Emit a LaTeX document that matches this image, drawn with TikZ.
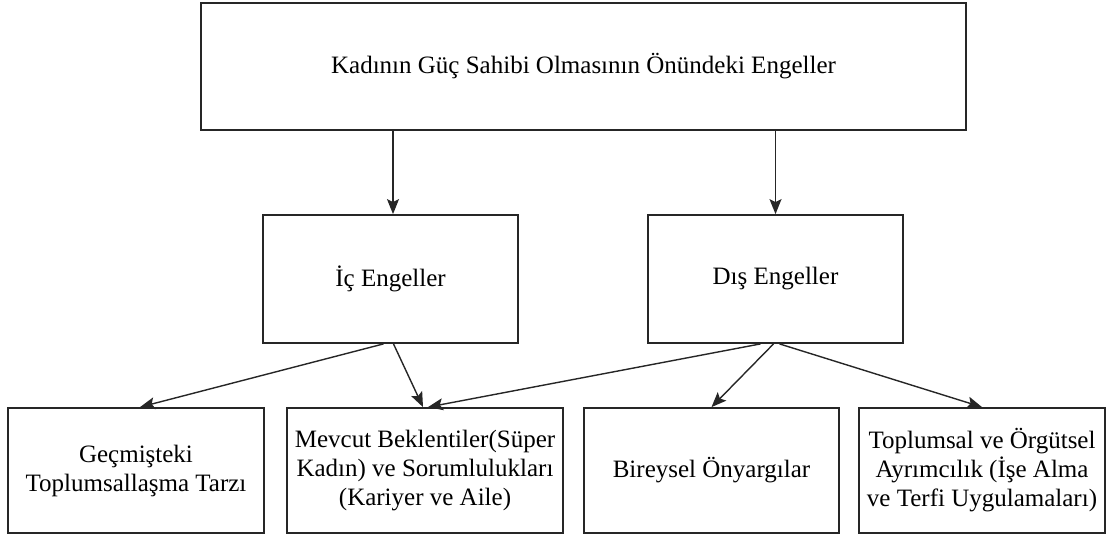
\documentclass[tikz,border=0pt]{standalone}
\usepackage{fontspec}
\setmainfont{Liberation Serif}
\usetikzlibrary{arrows.meta}
\begin{document}
\begin{tikzpicture}[x=1pt,y=-1pt,
  box/.style={draw=black!85, line width=1.8pt, inner sep=0pt, align=center,
    font=\fontsize{25}{29}\selectfont},
  conn/.style={draw=black!85, line width=1.4pt, -{Stealth[length=15pt,width=12pt,inset=3pt]}}]
\useasboundingbox (0,0) rectangle (1115,538);
\node[box, minimum width=765pt, minimum height=127pt] (top) at (583.5,66.5) {Kadının Güç Sahibi Olmasının Önündeki Engeller};
\node[box, minimum width=255pt, minimum height=128pt] (ic) at (390.5,279) {İç Engeller};
\node[box, minimum width=255pt, minimum height=128pt] (dis) at (775.5,279) {Dış Engeller};
\node[box, minimum width=256pt, minimum height=125pt] (b1) at (136,470.5) {Geçmişteki\\Toplumsallaşma Tarzı};
\node[box, minimum width=276pt, minimum height=125pt] (b2) at (425,470.5) {Mevcut Beklentiler(Süper\\Kadın) ve Sorumlulukları\\(Kariyer ve Aile)};
\node[box, minimum width=255pt, minimum height=125pt] (b3) at (711.5,470.5) {Bireysel Önyargılar};
\node[box, minimum width=246pt, minimum height=125pt] (b4) at (982,470.5) {Toplumsal ve Örgütsel\\Ayrımcılık (İşe Alma\\ve Terfi Uygulamaları)};
\draw[conn] ([xshift=2.5pt]top.south -| ic.north) -- ([xshift=2.5pt]ic.north);
\draw[conn] (top.south -| dis.north) -- (dis.north);
\draw[conn] ([xshift=-7pt]ic.south) -- ([xshift=4pt]b1.north);
\draw[conn] ([xshift=3pt]ic.south) -- ([xshift=-2pt]b2.north);
\draw[conn] ([xshift=-15pt]dis.south) -- ([xshift=3pt]b2.north);
\draw[conn] ([xshift=-2pt]dis.south) -- (b3.north);
\draw[conn] ([xshift=4pt]dis.south) -- (b4.north);
\end{tikzpicture}
\end{document}
